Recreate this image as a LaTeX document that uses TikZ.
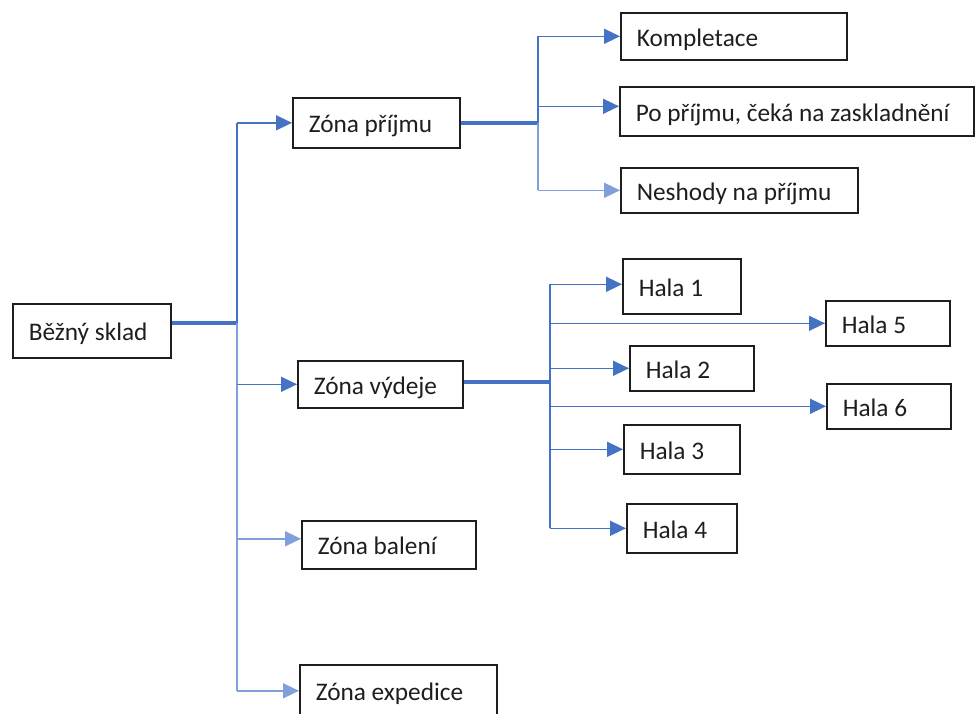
\documentclass[tikz,border=0pt]{standalone}
\usepackage{fontspec}
\setmainfont{Carlito}
\usepackage[dvipsnames]{xcolor}
\usetikzlibrary{arrows.meta,calc}
\definecolor{linkblue}{HTML}{4472C4}
\definecolor{paleblue}{HTML}{7FA0DA}
\definecolor{boxgray}{HTML}{1E1E1E}
\tikzset{
  zbox/.style={draw=boxgray, line width=1.6pt, anchor=north west, inner xsep=16pt, inner ysep=0pt, text height=20pt, text depth=0pt, align=flush left, text=boxgray},
  link/.style={draw=linkblue, line width=1.6pt, -{Triangle[length=16pt,width=15pt]}},
  palelink/.style={link, draw=paleblue},
  trunk/.style={draw=linkblue, line width=1.6pt},
  paletrunk/.style={draw=paleblue, line width=2.2pt},
  stub/.style={draw=linkblue, line width=3.2pt},
}

\begin{document}
\begin{tikzpicture}[x=1pt, y=-1pt, font=\fontsize{25.3}{29}\selectfont]
    \useasboundingbox (0,0) rectangle (975,713);

    \node[zbox, minimum width=158, minimum height=54, text width=126] (bezny) at (12,303) {Běžný sklad};
    \node[zbox, minimum width=167, minimum height=50, text width=135] (prijem) at (292,97) {Zóna příjmu};
    \node[zbox, minimum width=165, minimum height=47, text width=133] (vydej) at (297,360) {Zóna výdeje};
    \node[zbox, minimum width=174, minimum height=48, text width=142] (baleni) at (301,520) {Zóna balení};
    \node[zbox, minimum width=197, minimum height=52, text width=165] (expedice) at (299,664) {Zóna expedice};

    \node[zbox, minimum width=226, minimum height=47, text width=194] (komplet) at (620,12) {Kompletace};
    \node[zbox, minimum width=354, minimum height=49, text width=322] (cekani) at (619,86) {Po příjmu, čeká na zaskladnění};
    \node[zbox, minimum width=237, minimum height=45, text width=205] (neshody) at (620,167) {Neshody na příjmu};

    \node[zbox, minimum width=118, minimum height=55, text width=86] (hala1) at (622,258) {Hala 1};
    \node[zbox, minimum width=124, minimum height=45, text width=92] (hala2) at (629,345) {Hala 2};
    \node[zbox, minimum width=116, minimum height=49, text width=84] (hala3) at (623,424) {Hala 3};
    \node[zbox, minimum width=110, minimum height=49, text width=78] (hala4) at (626,503) {Hala 4};
    \node[zbox, minimum width=124, minimum height=45, text width=92] (hala5) at (825,300) {Hala 5};
    \node[zbox, minimum width=124, minimum height=45, text width=92] (hala6) at (826,383) {Hala 6};

    \coordinate (k1) at (237,323);
    \coordinate (k2) at (538,123);
    \coordinate (k3) at (550,382);

    \draw[stub] (bezny.east |- k1) -- (k1);
    \draw[trunk] (k1 |- prijem.west) -- (k1);
    \draw[paletrunk] (k1) -- (k1 |- expedice.west);
    \draw[link] (k1 |- prijem.west) -- (prijem.west);
    \draw[link] (k1 |- vydej.west) -- (vydej.west);
    \draw[palelink] ($(k1 |- baleni.west)+(0,-6)$) -- ($(baleni.west)+(0,-6)$);
    \draw[palelink] (k1 |- expedice.west) -- (expedice.west);

    \draw[stub] (prijem.east |- k2) -- (k2);
    \draw[trunk] (k2 |- komplet.west) -- (k2);
    \draw[paletrunk] (k2) -- (k2 |- neshody.west);
    \draw[link] (k2 |- komplet.west) -- (komplet.west);
    \draw[link] ($(k2 |- cekani.west)+(0,-5)$) -- ($(cekani.west)+(0,-5)$);
    \draw[palelink] (k2 |- neshody.west) -- (neshody.west);

    \draw[stub] (vydej.east |- k3) -- (k3);
    \draw[trunk] ($(k3 |- hala1.west)+(0,-2)$) -- (k3 |- hala4.west);
    \draw[link] ($(k3 |- hala1.west)+(0,-2)$) -- ($(hala1.west)+(0,-2)$);
    \draw[link] (k3 |- hala5.west) -- (hala5.west);
    \draw[link] (k3 |- hala2.west) -- (hala2.west);
    \draw[link] (k3 |- hala6.west) -- (hala6.west);
    \draw[link] (k3 |- hala3.west) -- (hala3.west);
    \draw[link] (k3 |- hala4.west) -- (hala4.west);
\end{tikzpicture}
\end{document}
